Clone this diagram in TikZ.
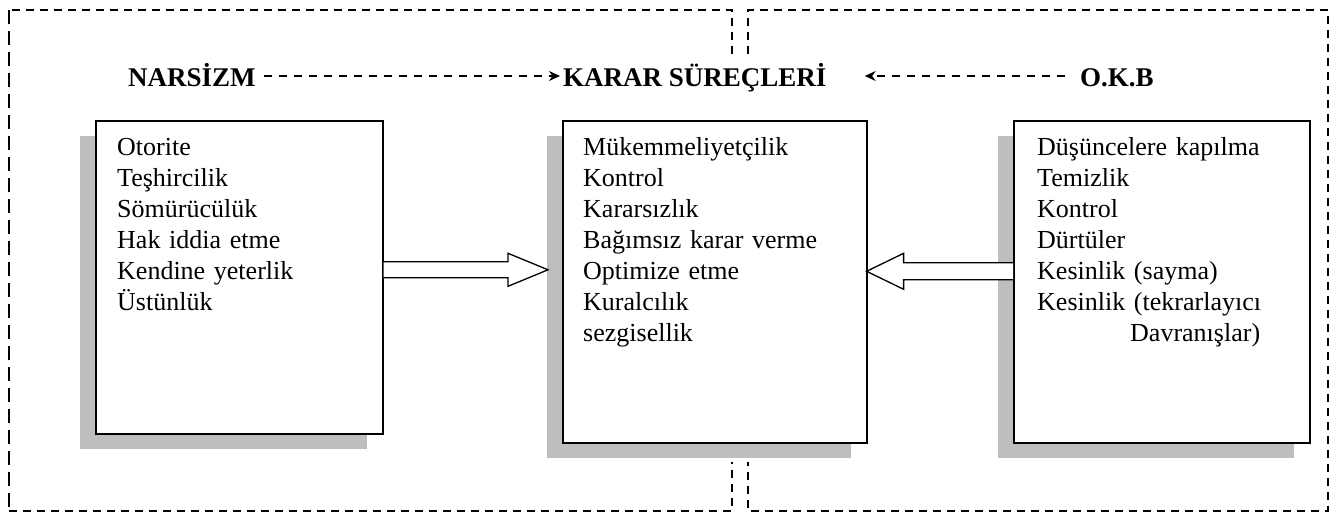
\documentclass[tikz,border=0pt]{standalone}
\usepackage{fontspec}
\setmainfont{Liberation Serif}
\usetikzlibrary{calc,arrows.meta,shadows}
\definecolor{shadowgray}{RGB}{190,190,190}
\begin{document}
\begin{tikzpicture}[x=1pt,y=-1pt,
  frameline/.style={line width=1.4pt, dash pattern=on 8pt off 6pt},
  longdash/.style={line width=1.4pt, dash pattern=on 14pt off 7pt},
  panel/.style={draw, line width=1.6pt, fill=white, rectangle, inner sep=0pt,
    anchor=north west,
    drop shadow={shadow xshift=-16pt, shadow yshift=-15pt, fill=shadowgray, opacity=1, draw=none}},
  itemlist/.style={font=\fontsize{26}{31}\selectfont, align=left, text width=280pt,
    inner sep=0pt, anchor=base west},
  heading/.style={font=\fontsize{27}{32}\selectfont\bfseries, inner sep=0pt, anchor=base west},
  dasharrow/.style={line width=1.4pt, dash pattern=on 8pt off 7pt,
    -{Stealth[length=11pt,width=10pt]}},
  blockarrow/.style={draw, line width=1.3pt, fill=white, line join=miter}
]
\useasboundingbox (0,0) rectangle (1341,514);
\fill[white] (0,0) rectangle (1341,514);

% two dashed enclosures, open where they meet in the middle
\draw[longdash] (9,10) -- (9,511);
\draw[frameline] (732,54) -- (732,10) -- (9,10);
\draw[frameline] (9,511) -- (732,511) -- (732,462);
\draw[frameline] (748,54) -- (748,10) -- (1328,10) -- (1328,511) -- (748,511) -- (748,462);

% headings
\node[heading] (nartitle) at (128,86) {NARSİZM};
\node[heading] (midtitle) at (563,86) {KARAR SÜREÇLERİ};
\node[heading] (okbtitle) at (1080,86) {O.K.B};

\draw[dasharrow] ($(nartitle.base east)+(8,-10)$) -- ($(midtitle.base west)+(-3,-10)$);
\draw[dasharrow] ($(okbtitle.base west)+(-15,-10)$) -- ($(midtitle.base east)+(38,-10)$);

% panels
\node[panel, minimum width=287pt, minimum height=313pt] (nar) at (95,120) {};
\node[panel, minimum width=304pt, minimum height=322pt] (mid) at (562,120) {};
\node[panel, minimum width=296pt, minimum height=322pt] (okb) at (1013,120) {};

\node[itemlist] (narlist) at ($(nar.north west)+(22,35)$)
  {Otorite\\Teşhircilik\\Sömürücülük\\Hak iddia etme\\Kendine yeterlik\\Üstünlük};
\node[itemlist] (midlist) at ($(mid.north west)+(21,35)$)
  {Mükemmeliyetçilik\\Kontrol\\Kararsızlık\\Bağımsız karar verme\\Optimize etme\\Kuralcılık\\sezgisellik};
\node[itemlist] (okblist) at ($(okb.north west)+(24,35)$)
  {Düşüncelere kapılma\\Temizlik\\Kontrol\\Dürtüler\\Kesinlik (sayma)\\Kesinlik (tekrarlayıcı\\\hspace*{93pt}Davranışlar)};

% hollow block arrows into the middle panel
\coordinate (la) at ($(nar.east)+(0,-7.5)$);
\coordinate (lt) at ($(mid.west |- la)+(-14,0)$);
\draw[blockarrow] ($(la)+(0,-8)$) -- ($(lt)+(-40,-8)$) -- ($(lt)+(-40,-16.5)$) -- (lt)
  -- ($(lt)+(-40,16.5)$) -- ($(lt)+(-40,8)$) -- ($(la)+(0,8)$);

\coordinate (ra) at ($(okb.west)+(0,-10.5)$);
\coordinate (rt) at ($(mid.east |- ra)+(-1,0)$);
\draw[blockarrow] ($(ra)+(0,-8.5)$) -- ($(rt)+(37,-8.5)$) -- ($(rt)+(37,-18)$) -- (rt)
  -- ($(rt)+(37,18)$) -- ($(rt)+(37,8.5)$) -- ($(ra)+(0,8.5)$);
\end{tikzpicture}
\end{document}
